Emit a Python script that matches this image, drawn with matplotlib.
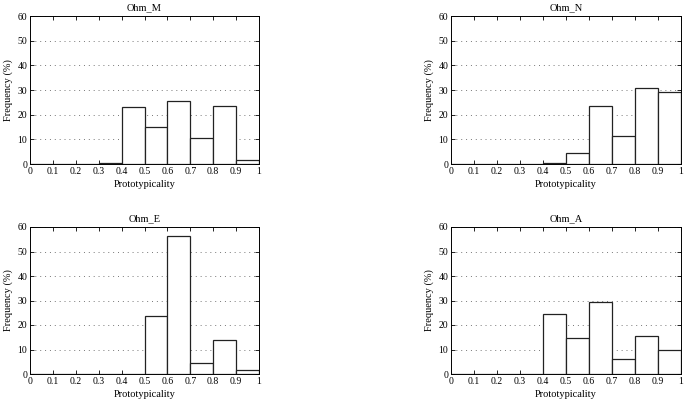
import numpy as np
import matplotlib.pyplot as plt

plt.rcParams['font.family'] = ['Liberation Serif', 'DejaVu Serif']

bin_edges = np.arange(0, 1.0, 0.1)
titles = ['Ohm_M', 'Ohm_N', 'Ohm_E', 'Ohm_A']
ohm_m = [0, 0, 0, 0.5, 23.0, 15.0, 25.7, 10.6, 23.7, 1.8]
ohm_n = [0, 0, 0, 0, 0.3, 4.5, 23.6, 11.4, 30.9, 29.3]
ohm_e = [0, 0, 0, 0, 0, 23.6, 56.5, 4.3, 14.0, 1.8]
ohm_a = [0, 0, 0, 0, 24.4, 14.8, 29.4, 6.3, 15.6, 9.9]
xticks = [0, 0.1, 0.2, 0.3, 0.4, 0.5, 0.6, 0.7, 0.8, 0.9, 1]
xtick_labels = ['0', '0.1', '0.2', '0.3', '0.4', '0.5', '0.6', '0.7', '0.8', '0.9', '1']
yticks = [0, 10, 20, 30, 40, 50, 60]

fig = plt.figure(figsize=(6.85, 4.03), dpi=100)
positions = [
    [30/685, 1 - 164/403, 229/685, 148/403],
    [451/685, 1 - 164/403, 230/685, 148/403],
    [30/685, 1 - 374/403, 229/685, 147/403],
    [451/685, 1 - 374/403, 230/685, 147/403],
]

for pos, title, vals in zip(positions, titles, [ohm_m, ohm_n, ohm_e, ohm_a]):
    ax = fig.add_axes(pos)
    ax.bar(bin_edges, vals, width=0.1, align='edge', facecolor='white',
           edgecolor='#222222', linewidth=0.9, zorder=3)
    ax.set_xlim(0, 1)
    ax.set_ylim(0, 60)
    ax.set_xticks(xticks)
    ax.set_xticklabels(xtick_labels)
    ax.set_yticks(yticks)
    # dotted horizontal grid only
    ax.yaxis.grid(True, linestyle=(0, (1, 4)), color='#777777', linewidth=0.7, zorder=0)
    ax.tick_params(direction='in', top=True, right=True, labelsize=7, length=3,
                   width=0.6, pad=2)
    for s in ax.spines.values():
        s.set_linewidth(0.7)
    ax.set_title(title, fontsize=7.5, pad=4)
    ax.set_xlabel('Prototypicality', fontsize=7.5, labelpad=3)
    ax.set_ylabel('Frequency (%)', fontsize=7.5, labelpad=3)

fig.savefig('out.png', dpi=100)
